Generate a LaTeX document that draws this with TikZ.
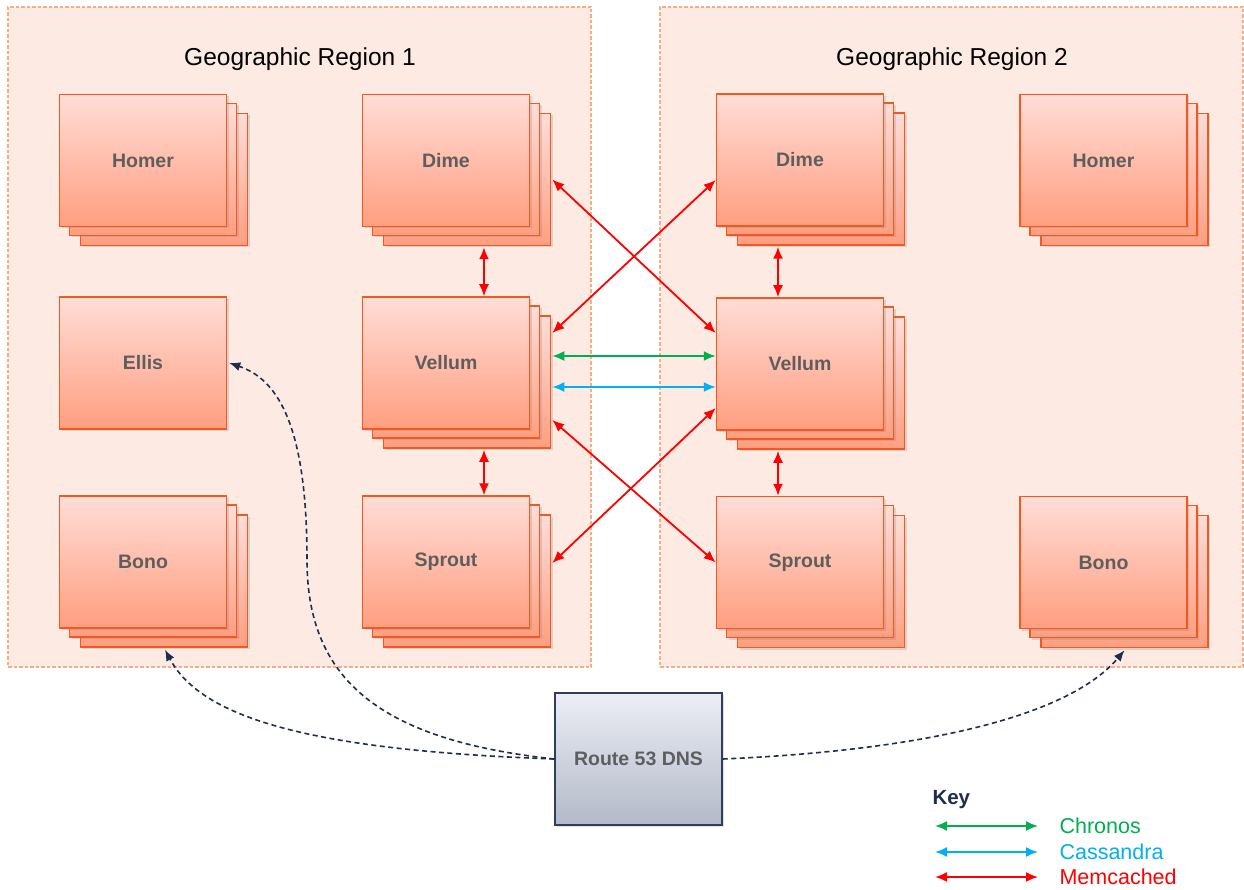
\documentclass[tikz,border=0pt]{standalone}
\usepackage{fontspec}
\setmainfont{Liberation Sans}
\usetikzlibrary{arrows.meta,calc,shadows}
\definecolor{regfill}{HTML}{FDEBE3}
\definecolor{regborder}{HTML}{F4AE86}
\definecolor{boxtop}{HTML}{FFDDD7}
\definecolor{boxbot}{HTML}{FF9E80}
\definecolor{boxborder}{HTML}{F05A22}
\definecolor{txtgray}{HTML}{5E5E5E}
\definecolor{dnstop}{HTML}{ECEEF4}
\definecolor{dnsbot}{HTML}{B3B9C9}
\definecolor{dnsborder}{HTML}{2F3D5E}
\definecolor{navy}{HTML}{1F2D50}
\definecolor{mred}{HTML}{FF0000}
\definecolor{mgreen}{HTML}{00B050}
\definecolor{mblue}{HTML}{00B0F0}
\tikzset{
  region/.style={draw=regborder, fill=regfill, line width=1.2pt, dash pattern=on 3.5pt off 2pt, minimum width=583pt, minimum height=660pt, inner sep=0},
  regtitle/.style={font=\fontsize{24.5}{28}\selectfont, text=black},
  box/.style={draw=boxborder, line width=1.5pt, top color=boxtop, bottom color=boxbot, minimum width=167pt, minimum height=132pt, inner sep=0, font=\bfseries\fontsize{19.5}{23}\selectfont, text=txtgray, drop shadow={opacity=0.25, shadow xshift=2pt, shadow yshift=-2pt}},
  dnsbox/.style={draw=dnsborder, line width=1.5pt, top color=dnstop, bottom color=dnsbot, minimum width=167pt, minimum height=132pt, inner sep=0, font=\bfseries\fontsize{19.5}{23}\selectfont, text=txtgray, drop shadow={opacity=0.25, shadow xshift=2pt, shadow yshift=-2pt}},
  link/.style={line width=1.8pt, {Latex[length=12pt,width=10pt]}-{Latex[length=12pt,width=10pt]}},
  memc/.style={link, draw=mred},
  chron/.style={link, draw=mgreen},
  cass/.style={link, draw=mblue},
  dns/.style={draw=navy, line width=1.6pt, dash pattern=on 5pt off 3.5pt, -{Latex[length=11pt,width=9pt]}},
  keytext/.style={anchor=west, font=\fontsize{21.5}{25}\selectfont},
}
\newcommand\stackbox[4]{%
  \node[box] (#1c) at (#2+21,#3+19) {};
  \node[box] (#1b) at (#2+10,#3+9) {};
  \node[box] (#1) at (#2,#3) {#4};}
\begin{document}
\begin{tikzpicture}[x=1pt,y=-1pt]
\useasboundingbox (0,0) rectangle (1244,890);
\fill[white] (0,0) rectangle (1244,890);
% regions
\node[region] (reg1) at (299.5,337) {};
\node[region] (reg2) at (951.5,337) {};
\node[regtitle] (t1) at (300,59) {Geographic Region 1};
\node[regtitle] (t2) at (952,59) {Geographic Region 2};
% region 1
\stackbox{homerA}{143}{160.5}{Homer}
\stackbox{dimeA}{446}{160.5}{Dime}
\node[box] (ellis) at (143,363) {Ellis};
\stackbox{vellumA}{446}{363}{Vellum}
\stackbox{bonoA}{143}{562}{Bono}
\stackbox{sproutA}{446}{562}{Sprout}
% region 2
\stackbox{dimeB}{800}{160}{Dime}
\stackbox{homerB}{1103.5}{160.5}{Homer}
\stackbox{vellumB}{800}{364}{Vellum}
\stackbox{sproutB}{800}{562.5}{Sprout}
\stackbox{bonoB}{1103.5}{562.5}{Bono}
% DNS
\node[dnsbox] (dns) at (638.5,759) {Route 53 DNS};
% memcached vertical
\draw[memc] ($(dimeAc.south)+(17,1)$) -- ($(vellumA.north)+(38,0)$);
\draw[memc] ($(vellumAc.south)+(17,1)$) -- ($(sproutA.north)+(38,0)$);
\draw[memc] ($(dimeBc.south)+(-43,1)$) -- ($(vellumB.north)+(-22,0)$);
\draw[memc] ($(vellumBc.south)+(-43,1)$) -- ($(sproutB.north)+(-22,0)$);
% memcached cross
\draw[memc] ($(dimeAc.east)+(1,0)$) -- ($(vellumB.west)+(0,-31)$);
\draw[memc] ($(dimeB.west)+(0,20)$) -- ($(vellumAc.east)+(1,-49)$);
\draw[memc] ($(vellumAc.east)+(1,38)$) -- (sproutB.west);
\draw[memc] ($(vellumB.west)+(0,44)$) -- ($(sproutAc.east)+(1,-18)$);
% chronos / cassandra
\draw[chron] ($(vellumAc.east)+(1,-26)$) -- ($(vellumB.west)+(0,-8)$);
\draw[cass] ($(vellumAc.east)+(1,5)$) -- ($(vellumB.west)+(0,23)$);
% DNS links
\coordinate (ellisIn) at ($(ellis.east)+(2,0)$);
\draw[dns] (dns.west) .. controls (380,740) and (307,680) .. (307,560) .. controls (307,430) and (280,380) .. (ellisIn);
\draw[dns] (dns.west) .. controls (300,750) and (200,715) .. ($(bonoAc.south)+(1,2)$);
\draw[dns] (dns.east) .. controls (930,750) and (1070,715) .. ($(bonoBc.south)+(0,2)$);
% key
\node[anchor=west, font=\bfseries\fontsize{20.5}{24}\selectfont, text=navy] (key) at (929,800) {Key};
\coordinate (k1a) at (935,826); \coordinate (k1b) at (1038,826);
\coordinate (k2a) at (935,852); \coordinate (k2b) at (1038,852);
\coordinate (k3a) at (935,877); \coordinate (k3b) at (1038,877);
\draw[chron] (k1a) -- (k1b);
\draw[cass] (k2a) -- (k2b);
\draw[memc] (k3a) -- (k3b);
\node[keytext, text=mgreen] (kc) at (1056,826) {Chronos};
\node[keytext, text=mblue] (kcs) at (1056,852) {Cassandra};
\node[keytext, text=mred] (km) at (1056,877) {Memcached};
\end{tikzpicture}
\end{document}
